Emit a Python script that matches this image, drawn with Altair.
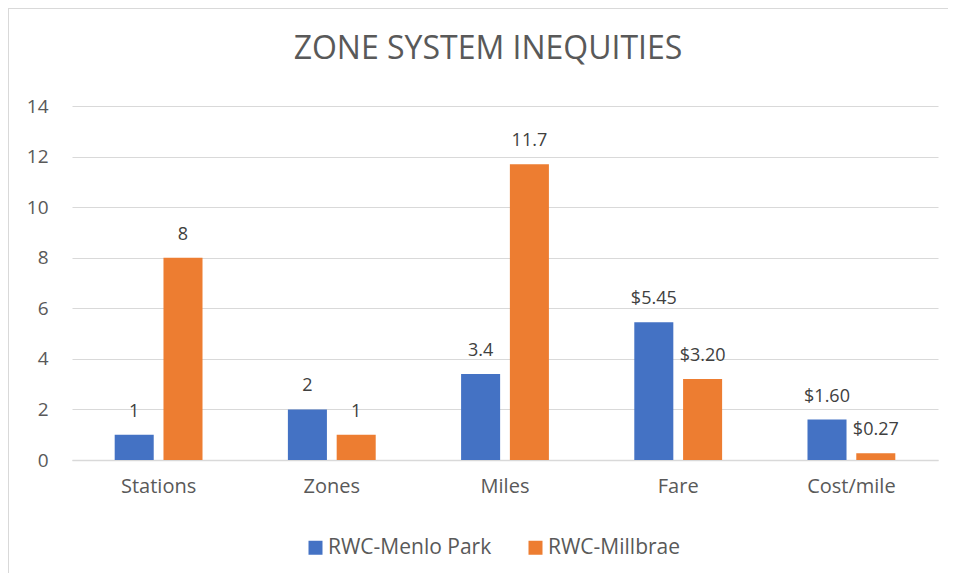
import altair as alt
import pandas as pd

categories = ["Stations", "Zones", "Miles", "Fare", "Cost/mile"]
series = ["RWC-Menlo Park", "RWC-Millbrae"]
menlo_values = [1, 2, 3.4, 5.45, 1.60]
millbrae_values = [8, 1, 11.7, 3.20, 0.27]
menlo_labels = ["1", "2", "3.4", "$5.45", "$1.60"]
millbrae_labels = ["8", "1", "11.7", "$3.20", "$0.27"]
colors = ["#4472C4", "#ED7D31"]

rows = []
for c, v, l in zip(categories, menlo_values, menlo_labels):
    rows.append({"category": c, "series": series[0], "value": v, "label": l})
for c, v, l in zip(categories, millbrae_values, millbrae_labels):
    rows.append({"category": c, "series": series[1], "value": v, "label": l})
df = pd.DataFrame(rows)

FONT = "Open Sans"
W, H = 866, 354

x = alt.X("category:N", sort=categories, title=None,
          scale=alt.Scale(paddingInner=0, paddingOuter=0),
          axis=alt.Axis(labelAngle=0, labelFontSize=20, labelColor="#595959",
                        labelFont=FONT, ticks=False, labelPadding=16,
                        domainColor="#d9d9d9", domainWidth=1.5))
xo = alt.XOffset("series:N", sort=series,
                 scale=alt.Scale(paddingInner=0.2, paddingOuter=0.875))
y = alt.Y("value:Q", title=None,
          scale=alt.Scale(domain=[0, 14], nice=False),
          axis=alt.Axis(values=[0, 2, 4, 6, 8, 10, 12, 14], labelFontSize=19,
                        labelColor="#595959", labelFont=FONT, ticks=False,
                        labelPadding=24, domain=False, gridColor="#d9d9d9",
                        gridWidth=1.2))

base = alt.Chart(df).encode(x=x, xOffset=xo, y=y)

bars = base.mark_bar().encode(
    color=alt.Color("series:N", sort=series,
                    scale=alt.Scale(domain=series, range=colors),
                    legend=alt.Legend(title=None, orient="none", legendX=233, legendY=431,
                                      direction="horizontal", symbolType="square",
                                      symbolSize=196, symbolStrokeWidth=0,
                                      labelFontSize=21, labelColor="#595959",
                                      labelFont=FONT, labelLimit=400,
                                      columnPadding=33, labelOffset=2))
)

texts = base.mark_text(baseline="alphabetic", dy=-18, fontSize=18, font=FONT,
                       color="#404040").encode(text="label:N")

border_df = pd.DataFrame({"k": [0]})
top_edge = alt.Chart(border_df).mark_rule(stroke="#d9d9d9", strokeWidth=2).encode(
    x=alt.value(-64), x2=alt.value(W + 100), y=alt.value(-98)
)
left_edge = alt.Chart(border_df).mark_rule(stroke="#d9d9d9", strokeWidth=2).encode(
    x=alt.value(-64), y=alt.value(-98), y2=alt.value(H + 200)
)

chart = alt.layer(top_edge, left_edge, bars, texts).properties(
    width=W, height=H,
    title=alt.Title("ZONE SYSTEM INEQUITIES", fontSize=32, font=FONT,
                    fontWeight="normal", color="#595959", anchor="middle",
                    baseline="alphabetic", dx=-17, offset=-84),
    padding={"left": 64, "top": 98, "right": 10, "bottom": 113},
    autosize=alt.AutoSizeParams(type="none"),
).configure_view(stroke=None)

chart.save("out.html", embed_options={"renderer": "svg", "actions": False})
